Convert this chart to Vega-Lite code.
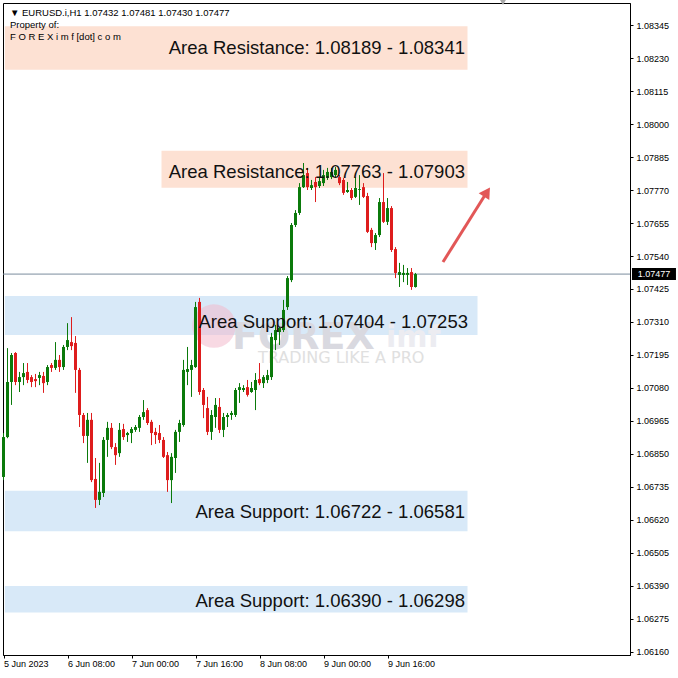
{
  "$schema": "https://vega.github.io/schema/vega-lite/v6.json",
  "width": 627,
  "height": 652,
  "autosize": {"type": "none"},
  "padding": {"left": 3, "top": 3, "right": 48, "bottom": 23},
  "background": "#ffffff",
  "config": {
    "view": {"stroke": "#000000", "strokeWidth": 1},
    "axis": {"domainColor": "#000000", "tickColor": "#000000", "labelColor": "#000000", "labelFont": "Liberation Sans", "labelFontSize": 9, "grid": false, "labelOverlap": false}
  },
  "datasets": {
    "zones": [
      {"t": "2023-06-05T16:20Z", "t2": "2023-06-10T12:00Z", "p": 1.08189, "p2": 1.08341, "kind": "res"},
      {"t": "2023-06-07T07:30Z", "t2": "2023-06-10T12:00Z", "p": 1.07778, "p2": 1.07907, "kind": "res"},
      {"t": "2023-06-05T16:20Z", "t2": "2023-06-10T14:30Z", "p": 1.07265, "p2": 1.07401, "kind": "sup"},
      {"t": "2023-06-05T16:20Z", "t2": "2023-06-10T12:00Z", "p": 1.06581, "p2": 1.06722, "kind": "sup"},
      {"t": "2023-06-05T16:20Z", "t2": "2023-06-10T12:00Z", "p": 1.06298, "p2": 1.0639, "kind": "sup"}
    ],
    "zonelabels": [
      {"t": "2023-06-10T11:22Z", "p": 1.08265, "text": "Area Resistance: 1.08189 - 1.08341"},
      {"t": "2023-06-10T11:22Z", "p": 1.07833, "text": "Area Resistance: 1.07763 - 1.07903"},
      {"t": "2023-06-10T12:07Z", "p": 1.0731, "text": "Area Support: 1.07404 - 1.07253"},
      {"t": "2023-06-10T11:22Z", "p": 1.06648, "text": "Area Support: 1.06722 - 1.06581"},
      {"t": "2023-06-10T11:22Z", "p": 1.06338, "text": "Area Support: 1.06390 - 1.06298"}
    ],
    "header": [
      {"t": "2023-06-05T17:37Z", "p": 1.08387, "text": "▼ EURUSD.i,H1  1.07432 1.07481 1.07430 1.07477"},
      {"t": "2023-06-05T17:37Z", "p": 1.08345, "text": "Property of:"},
      {"t": "2023-06-05T17:37Z", "p": 1.08303, "text": "F O R E X i m f [dot] c o m"}
    ],
    "wmcircle": [{"t": "2023-06-07T20:37Z", "p": 1.07296}],
    "wmbig": [{"t": "2023-06-08T01:07Z", "p": 1.07255, "text": "FOREX"}],
    "wmsmall": [{"t": "2023-06-09T15:37Z", "p": 1.07255, "text": "imf"}],
    "wmtag": [{"t": "2023-06-08T07:37Z", "p": 1.07185, "text": "TRADING LIKE A PRO"}],
    "current": [{"p": 1.07477}],
    "pricebox": [{"t": "2023-06-12T05:07Z", "t2": "2023-06-12T16:07Z", "p": 1.07456, "p2": 1.07498}],
    "pricetext": [{"t": "2023-06-12T10:37Z", "p": 1.07477, "text": "1.07477"}],
    "arrow": [{"t": "2023-06-10T05:52Z", "p": 1.07519, "t2": "2023-06-10T16:52Z", "p2": 1.07763}],
    "arrowhead": [{"t": "2023-06-10T16:52Z", "p": 1.07763}],
    "shiftmark": [{"t": "2023-06-10T20:52Z", "p": 1.08426}],
    "candles": [
      {"t": "2023-06-05T16:00Z", "o": 1.0677, "h": 1.06923, "l": 1.06759, "c": 1.06909},
      {"t": "2023-06-05T17:00Z", "o": 1.06909, "h": 1.07219, "l": 1.06905, "c": 1.07101},
      {"t": "2023-06-05T18:00Z", "o": 1.07101, "h": 1.07202, "l": 1.07021, "c": 1.07195},
      {"t": "2023-06-05T19:00Z", "o": 1.07202, "h": 1.07205, "l": 1.0709, "c": 1.07101},
      {"t": "2023-06-05T20:00Z", "o": 1.07101, "h": 1.07136, "l": 1.07066, "c": 1.07118},
      {"t": "2023-06-05T21:00Z", "o": 1.07118, "h": 1.07167, "l": 1.0709, "c": 1.07132},
      {"t": "2023-06-05T22:00Z", "o": 1.07136, "h": 1.07167, "l": 1.07097, "c": 1.07108},
      {"t": "2023-06-05T23:00Z", "o": 1.07118, "h": 1.07125, "l": 1.07083, "c": 1.07101},
      {"t": "2023-06-06T00:00Z", "o": 1.07111, "h": 1.07129, "l": 1.07083, "c": 1.07104},
      {"t": "2023-06-06T01:00Z", "o": 1.07115, "h": 1.07136, "l": 1.0709, "c": 1.07125},
      {"t": "2023-06-06T02:00Z", "o": 1.07122, "h": 1.07136, "l": 1.07063, "c": 1.07097},
      {"t": "2023-06-06T03:00Z", "o": 1.07101, "h": 1.0716, "l": 1.0709, "c": 1.07153},
      {"t": "2023-06-06T04:00Z", "o": 1.0716, "h": 1.07167, "l": 1.07136, "c": 1.0715},
      {"t": "2023-06-06T05:00Z", "o": 1.0715, "h": 1.0724, "l": 1.07143, "c": 1.07178},
      {"t": "2023-06-06T06:00Z", "o": 1.07178, "h": 1.07195, "l": 1.07136, "c": 1.07153},
      {"t": "2023-06-06T07:00Z", "o": 1.07153, "h": 1.0723, "l": 1.07143, "c": 1.07223},
      {"t": "2023-06-06T08:00Z", "o": 1.07223, "h": 1.07306, "l": 1.07212, "c": 1.07247},
      {"t": "2023-06-06T09:00Z", "o": 1.0724, "h": 1.07327, "l": 1.07212, "c": 1.07226},
      {"t": "2023-06-06T10:00Z", "o": 1.07237, "h": 1.07261, "l": 1.07063, "c": 1.07143},
      {"t": "2023-06-06T11:00Z", "o": 1.07143, "h": 1.0715, "l": 1.06944, "c": 1.06986},
      {"t": "2023-06-06T12:00Z", "o": 1.06986, "h": 1.06993, "l": 1.06888, "c": 1.06913},
      {"t": "2023-06-06T13:00Z", "o": 1.06913, "h": 1.06993, "l": 1.06819, "c": 1.06969},
      {"t": "2023-06-06T14:00Z", "o": 1.06969, "h": 1.06993, "l": 1.06752, "c": 1.06759},
      {"t": "2023-06-06T15:00Z", "o": 1.06763, "h": 1.06836, "l": 1.06662, "c": 1.0669},
      {"t": "2023-06-06T16:00Z", "o": 1.0669, "h": 1.06819, "l": 1.06672, "c": 1.06718},
      {"t": "2023-06-06T17:00Z", "o": 1.06714, "h": 1.06909, "l": 1.067, "c": 1.06899},
      {"t": "2023-06-06T18:00Z", "o": 1.06899, "h": 1.06962, "l": 1.0684, "c": 1.06941},
      {"t": "2023-06-06T19:00Z", "o": 1.06941, "h": 1.06958, "l": 1.06867, "c": 1.06874},
      {"t": "2023-06-06T20:00Z", "o": 1.06874, "h": 1.06888, "l": 1.06812, "c": 1.06846},
      {"t": "2023-06-06T21:00Z", "o": 1.06853, "h": 1.06958, "l": 1.0684, "c": 1.06934},
      {"t": "2023-06-06T22:00Z", "o": 1.06937, "h": 1.06955, "l": 1.06899, "c": 1.06909},
      {"t": "2023-06-06T23:00Z", "o": 1.06916, "h": 1.06927, "l": 1.06892, "c": 1.06923},
      {"t": "2023-06-07T00:00Z", "o": 1.06923, "h": 1.06944, "l": 1.06888, "c": 1.06937},
      {"t": "2023-06-07T01:00Z", "o": 1.06934, "h": 1.06951, "l": 1.06927, "c": 1.06944},
      {"t": "2023-06-07T02:00Z", "o": 1.06941, "h": 1.06986, "l": 1.06927, "c": 1.06979},
      {"t": "2023-06-07T03:00Z", "o": 1.06979, "h": 1.07038, "l": 1.06969, "c": 1.06996},
      {"t": "2023-06-07T04:00Z", "o": 1.07003, "h": 1.0701, "l": 1.06951, "c": 1.06958},
      {"t": "2023-06-07T05:00Z", "o": 1.06962, "h": 1.06969, "l": 1.06881, "c": 1.06923},
      {"t": "2023-06-07T06:00Z", "o": 1.06927, "h": 1.06941, "l": 1.06885, "c": 1.06916},
      {"t": "2023-06-07T07:00Z", "o": 1.06923, "h": 1.06951, "l": 1.06888, "c": 1.06899},
      {"t": "2023-06-07T08:00Z", "o": 1.06899, "h": 1.06909, "l": 1.06836, "c": 1.0684},
      {"t": "2023-06-07T09:00Z", "o": 1.06846, "h": 1.06857, "l": 1.06718, "c": 1.06759},
      {"t": "2023-06-07T10:00Z", "o": 1.06759, "h": 1.06853, "l": 1.06679, "c": 1.0684},
      {"t": "2023-06-07T11:00Z", "o": 1.06836, "h": 1.06934, "l": 1.06784, "c": 1.06927},
      {"t": "2023-06-07T12:00Z", "o": 1.06927, "h": 1.06969, "l": 1.06892, "c": 1.06958},
      {"t": "2023-06-07T13:00Z", "o": 1.06951, "h": 1.07178, "l": 1.06945, "c": 1.07143},
      {"t": "2023-06-07T14:00Z", "o": 1.07136, "h": 1.07223, "l": 1.0709, "c": 1.07146},
      {"t": "2023-06-07T15:00Z", "o": 1.07143, "h": 1.07178, "l": 1.07049, "c": 1.0716},
      {"t": "2023-06-07T16:00Z", "o": 1.07153, "h": 1.0738, "l": 1.0715, "c": 1.07362},
      {"t": "2023-06-07T17:00Z", "o": 1.0738, "h": 1.07394, "l": 1.07056, "c": 1.07066},
      {"t": "2023-06-07T18:00Z", "o": 1.07073, "h": 1.0708, "l": 1.06975, "c": 1.07021},
      {"t": "2023-06-07T19:00Z", "o": 1.0701, "h": 1.07049, "l": 1.06916, "c": 1.06927},
      {"t": "2023-06-07T20:00Z", "o": 1.06927, "h": 1.07003, "l": 1.06899, "c": 1.06986},
      {"t": "2023-06-07T21:00Z", "o": 1.06979, "h": 1.07045, "l": 1.06941, "c": 1.07021},
      {"t": "2023-06-07T22:00Z", "o": 1.07014, "h": 1.07045, "l": 1.06923, "c": 1.06934},
      {"t": "2023-06-07T23:00Z", "o": 1.06934, "h": 1.06993, "l": 1.06909, "c": 1.06979},
      {"t": "2023-06-08T00:00Z", "o": 1.06979, "h": 1.06993, "l": 1.06944, "c": 1.06986},
      {"t": "2023-06-08T01:00Z", "o": 1.06986, "h": 1.07, "l": 1.06969, "c": 1.06993},
      {"t": "2023-06-08T02:00Z", "o": 1.06986, "h": 1.0708, "l": 1.06979, "c": 1.07073},
      {"t": "2023-06-08T03:00Z", "o": 1.07073, "h": 1.07097, "l": 1.07028, "c": 1.07083},
      {"t": "2023-06-08T04:00Z", "o": 1.07073, "h": 1.0709, "l": 1.07066, "c": 1.0708},
      {"t": "2023-06-08T05:00Z", "o": 1.07083, "h": 1.07108, "l": 1.0705, "c": 1.07056},
      {"t": "2023-06-08T06:00Z", "o": 1.07066, "h": 1.07101, "l": 1.07063, "c": 1.0708},
      {"t": "2023-06-08T07:00Z", "o": 1.07073, "h": 1.07132, "l": 1.07003, "c": 1.07108},
      {"t": "2023-06-08T08:00Z", "o": 1.07111, "h": 1.07167, "l": 1.0709, "c": 1.07097},
      {"t": "2023-06-08T09:00Z", "o": 1.07097, "h": 1.07125, "l": 1.0708, "c": 1.07118},
      {"t": "2023-06-08T10:00Z", "o": 1.07108, "h": 1.07143, "l": 1.07097, "c": 1.07125},
      {"t": "2023-06-08T11:00Z", "o": 1.07118, "h": 1.07272, "l": 1.07108, "c": 1.07258},
      {"t": "2023-06-08T12:00Z", "o": 1.07247, "h": 1.073, "l": 1.07212, "c": 1.07282},
      {"t": "2023-06-08T13:00Z", "o": 1.07275, "h": 1.07293, "l": 1.0723, "c": 1.07289},
      {"t": "2023-06-08T14:00Z", "o": 1.07282, "h": 1.07387, "l": 1.07275, "c": 1.07352},
      {"t": "2023-06-08T15:00Z", "o": 1.07362, "h": 1.0747, "l": 1.07352, "c": 1.07463},
      {"t": "2023-06-08T16:00Z", "o": 1.07456, "h": 1.07655, "l": 1.07449, "c": 1.07648},
      {"t": "2023-06-08T17:00Z", "o": 1.07648, "h": 1.077, "l": 1.07641, "c": 1.0769},
      {"t": "2023-06-08T18:00Z", "o": 1.0769, "h": 1.07794, "l": 1.07683, "c": 1.0778},
      {"t": "2023-06-08T19:00Z", "o": 1.0778, "h": 1.07864, "l": 1.07777, "c": 1.07822},
      {"t": "2023-06-08T20:00Z", "o": 1.07829, "h": 1.07847, "l": 1.0777, "c": 1.0778},
      {"t": "2023-06-08T21:00Z", "o": 1.07777, "h": 1.07805, "l": 1.0777, "c": 1.07787},
      {"t": "2023-06-08T22:00Z", "o": 1.07798, "h": 1.07815, "l": 1.07728, "c": 1.0778},
      {"t": "2023-06-08T23:00Z", "o": 1.07784, "h": 1.07812, "l": 1.07777, "c": 1.07801},
      {"t": "2023-06-09T00:00Z", "o": 1.07794, "h": 1.0784, "l": 1.07784, "c": 1.07822},
      {"t": "2023-06-09T01:00Z", "o": 1.07812, "h": 1.07847, "l": 1.07805, "c": 1.07833},
      {"t": "2023-06-09T02:00Z", "o": 1.07815, "h": 1.07847, "l": 1.07808, "c": 1.07833},
      {"t": "2023-06-09T03:00Z", "o": 1.07822, "h": 1.0785, "l": 1.07815, "c": 1.0784},
      {"t": "2023-06-09T04:00Z", "o": 1.07815, "h": 1.07822, "l": 1.07787, "c": 1.07794},
      {"t": "2023-06-09T05:00Z", "o": 1.07805, "h": 1.07812, "l": 1.07753, "c": 1.0776},
      {"t": "2023-06-09T06:00Z", "o": 1.07763, "h": 1.07798, "l": 1.0776, "c": 1.0777},
      {"t": "2023-06-09T07:00Z", "o": 1.0777, "h": 1.07777, "l": 1.07735, "c": 1.07742},
      {"t": "2023-06-09T08:00Z", "o": 1.07746, "h": 1.07815, "l": 1.07742, "c": 1.07777},
      {"t": "2023-06-09T09:00Z", "o": 1.0777, "h": 1.07822, "l": 1.07718, "c": 1.07773},
      {"t": "2023-06-09T10:00Z", "o": 1.0778, "h": 1.07794, "l": 1.07742, "c": 1.07746},
      {"t": "2023-06-09T11:00Z", "o": 1.07749, "h": 1.0776, "l": 1.0762, "c": 1.07624},
      {"t": "2023-06-09T12:00Z", "o": 1.07631, "h": 1.07638, "l": 1.07571, "c": 1.07585},
      {"t": "2023-06-09T13:00Z", "o": 1.07585, "h": 1.0762, "l": 1.07561, "c": 1.07613},
      {"t": "2023-06-09T14:00Z", "o": 1.07613, "h": 1.07742, "l": 1.07606, "c": 1.07728},
      {"t": "2023-06-09T15:00Z", "o": 1.07728, "h": 1.07829, "l": 1.07655, "c": 1.07659},
      {"t": "2023-06-09T16:00Z", "o": 1.07659, "h": 1.07742, "l": 1.07648, "c": 1.07707},
      {"t": "2023-06-09T17:00Z", "o": 1.07707, "h": 1.07714, "l": 1.07554, "c": 1.07561},
      {"t": "2023-06-09T18:00Z", "o": 1.07564, "h": 1.07571, "l": 1.07463, "c": 1.07481},
      {"t": "2023-06-09T19:00Z", "o": 1.07474, "h": 1.07516, "l": 1.07432, "c": 1.07484},
      {"t": "2023-06-09T20:00Z", "o": 1.07474, "h": 1.07509, "l": 1.07449, "c": 1.07481},
      {"t": "2023-06-09T21:00Z", "o": 1.07474, "h": 1.07498, "l": 1.07439, "c": 1.07481},
      {"t": "2023-06-09T22:00Z", "o": 1.07484, "h": 1.07498, "l": 1.07422, "c": 1.07432},
      {"t": "2023-06-09T23:00Z", "o": 1.07432, "h": 1.07481, "l": 1.0743, "c": 1.07477}
    ]
  },
  "layer": [
    {
      "data": {"name": "zones"},
      "mark": {"type": "rect"},
      "encoding": {
        "x": {"field": "t", "type": "temporal",
          "scale": {"type": "utc", "padding": 0, "domain": [{"year": 2023, "month": 6, "date": 5, "hours": 15, "minutes": 52, "seconds": 30, "utc": true}, {"year": 2023, "month": 6, "date": 12, "hours": 4, "minutes": 37, "seconds": 30, "utc": true}]},
          "axis": {"title": null, "orient": "bottom", "tickCount": 30,
            "values": [
              {"year": 2023, "month": 6, "date": 5, "hours": 16, "utc": true},
              {"year": 2023, "month": 6, "date": 6, "hours": 8, "utc": true},
              {"year": 2023, "month": 6, "date": 7, "hours": 0, "utc": true},
              {"year": 2023, "month": 6, "date": 7, "hours": 16, "utc": true},
              {"year": 2023, "month": 6, "date": 8, "hours": 8, "utc": true},
              {"year": 2023, "month": 6, "date": 9, "hours": 0, "utc": true},
              {"year": 2023, "month": 6, "date": 9, "hours": 16, "utc": true}
            ],
            "labelExpr": "datum.index == 0 ? utcFormat(datum.value, '%-d %b %Y') : utcFormat(datum.value, '%-d %b %H:%M')",
            "labelAlign": "left", "labelBaseline": "top", "tickSize": 3, "labelPadding": 1,
            "labelOverlap": false, "labelFlush": false, "labelBound": false}},
        "x2": {"field": "t2"},
        "y": {"field": "p", "type": "quantitative",
          "scale": {"domain": [1.061495, 1.084217], "zero": false, "nice": false, "padding": 0},
          "axis": {"title": null, "orient": "right", "tickCount": 40,
            "values": [1.0616, 1.06275, 1.0639, 1.06505, 1.0662, 1.06735, 1.0685, 1.06965, 1.0708, 1.07195, 1.0731, 1.07425, 1.0754, 1.07655, 1.0777, 1.07885, 1.08, 1.08115, 1.0823, 1.08345],
            "format": ".5f", "tickSize": 3, "labelPadding": 3, "labelOverlap": false, "labelFlush": false, "labelBound": false}},
        "y2": {"field": "p2"},
        "color": {"field": "kind", "type": "nominal", "scale": {"domain": ["res", "sup"], "range": ["#fde1d3", "#d8e9f8"]}, "legend": null}
      }
    },
    {
      "data": {"name": "wmcircle"},
      "mark": {"type": "point", "shape": "circle", "filled": true, "size": 1900, "color": "#f3b9cc", "opacity": 0.55},
      "encoding": {
        "x": {"field": "t", "type": "temporal"},
        "y": {"field": "p", "type": "quantitative"}
      }
    },
    {
      "data": {"name": "wmbig"},
      "mark": {"type": "text", "align": "left", "baseline": "middle", "font": "DejaVu Sans", "fontWeight": "bold", "fontSize": 38, "color": "#d9d9e0"},
      "encoding": {
        "x": {"field": "t", "type": "temporal"},
        "y": {"field": "p", "type": "quantitative"},
        "text": {"field": "text"}
      }
    },
    {
      "data": {"name": "wmsmall"},
      "mark": {"type": "text", "align": "left", "baseline": "middle", "font": "DejaVu Sans", "fontWeight": "bold", "fontSize": 30, "color": "#ececf1"},
      "encoding": {
        "x": {"field": "t", "type": "temporal"},
        "y": {"field": "p", "type": "quantitative"},
        "text": {"field": "text"}
      }
    },
    {
      "data": {"name": "wmtag"},
      "mark": {"type": "text", "align": "left", "baseline": "middle", "font": "DejaVu Sans", "fontSize": 16, "color": "#e0e0e0"},
      "encoding": {
        "x": {"field": "t", "type": "temporal"},
        "y": {"field": "p", "type": "quantitative"},
        "text": {"field": "text"}
      }
    },
    {
      "data": {"name": "current"},
      "mark": {"type": "rule", "color": "#7b8c9e", "strokeWidth": 1},
      "encoding": {
        "y": {"field": "p", "type": "quantitative"}
      }
    },
    {
      "data": {"name": "candles"},
      "mark": {"type": "rule", "strokeWidth": 1},
      "encoding": {
        "x": {"field": "t", "type": "temporal"},
        "y": {"field": "l", "type": "quantitative"},
        "y2": {"field": "h"},
        "color": {"condition": {"test": "datum.c >= datum.o", "value": "#0b7a0b"}, "value": "#de1d1d"}
      }
    },
    {
      "data": {"name": "candles"},
      "mark": {"type": "bar", "width": 3},
      "encoding": {
        "x": {"field": "t", "type": "temporal"},
        "y": {"field": "o", "type": "quantitative"},
        "y2": {"field": "c"},
        "color": {"condition": {"test": "datum.c >= datum.o", "value": "#0b7a0b"}, "value": "#de1d1d"}
      }
    },
    {
      "data": {"name": "zonelabels"},
      "mark": {"type": "text", "align": "right", "baseline": "middle", "font": "Liberation Sans", "fontSize": 18.5, "color": "#111111"},
      "encoding": {
        "x": {"field": "t", "type": "temporal"},
        "y": {"field": "p", "type": "quantitative"},
        "text": {"field": "text"}
      }
    },
    {
      "data": {"name": "arrow"},
      "mark": {"type": "rule", "color": "#e25757", "strokeWidth": 3},
      "encoding": {
        "x": {"field": "t", "type": "temporal"},
        "x2": {"field": "t2"},
        "y": {"field": "p", "type": "quantitative"},
        "y2": {"field": "p2"}
      }
    },
    {
      "data": {"name": "arrowhead"},
      "mark": {"type": "point", "shape": "triangle-up", "filled": true, "size": 160, "angle": 33, "color": "#e25757", "opacity": 1},
      "encoding": {
        "x": {"field": "t", "type": "temporal"},
        "y": {"field": "p", "type": "quantitative"}
      }
    },
    {
      "data": {"name": "header"},
      "mark": {"type": "text", "align": "left", "baseline": "middle", "font": "Liberation Sans", "fontSize": 9.5, "color": "#000000"},
      "encoding": {
        "x": {"field": "t", "type": "temporal"},
        "y": {"field": "p", "type": "quantitative"},
        "text": {"field": "text"}
      }
    },
    {
      "data": {"name": "pricebox"},
      "mark": {"type": "rect", "color": "#000000"},
      "encoding": {
        "x": {"field": "t", "type": "temporal"},
        "x2": {"field": "t2"},
        "y": {"field": "p", "type": "quantitative"},
        "y2": {"field": "p2"}
      }
    },
    {
      "data": {"name": "pricetext"},
      "mark": {"type": "text", "align": "center", "baseline": "middle", "font": "Liberation Sans", "fontSize": 9, "color": "#ffffff"},
      "encoding": {
        "x": {"field": "t", "type": "temporal"},
        "y": {"field": "p", "type": "quantitative"},
        "text": {"field": "text"}
      }
    },
    {
      "data": {"name": "shiftmark"},
      "mark": {"type": "point", "shape": "triangle-down", "filled": true, "size": 60, "color": "#a8a8a8", "opacity": 1},
      "encoding": {
        "x": {"field": "t", "type": "temporal"},
        "y": {"field": "p", "type": "quantitative"}
      }
    }
  ]
}
